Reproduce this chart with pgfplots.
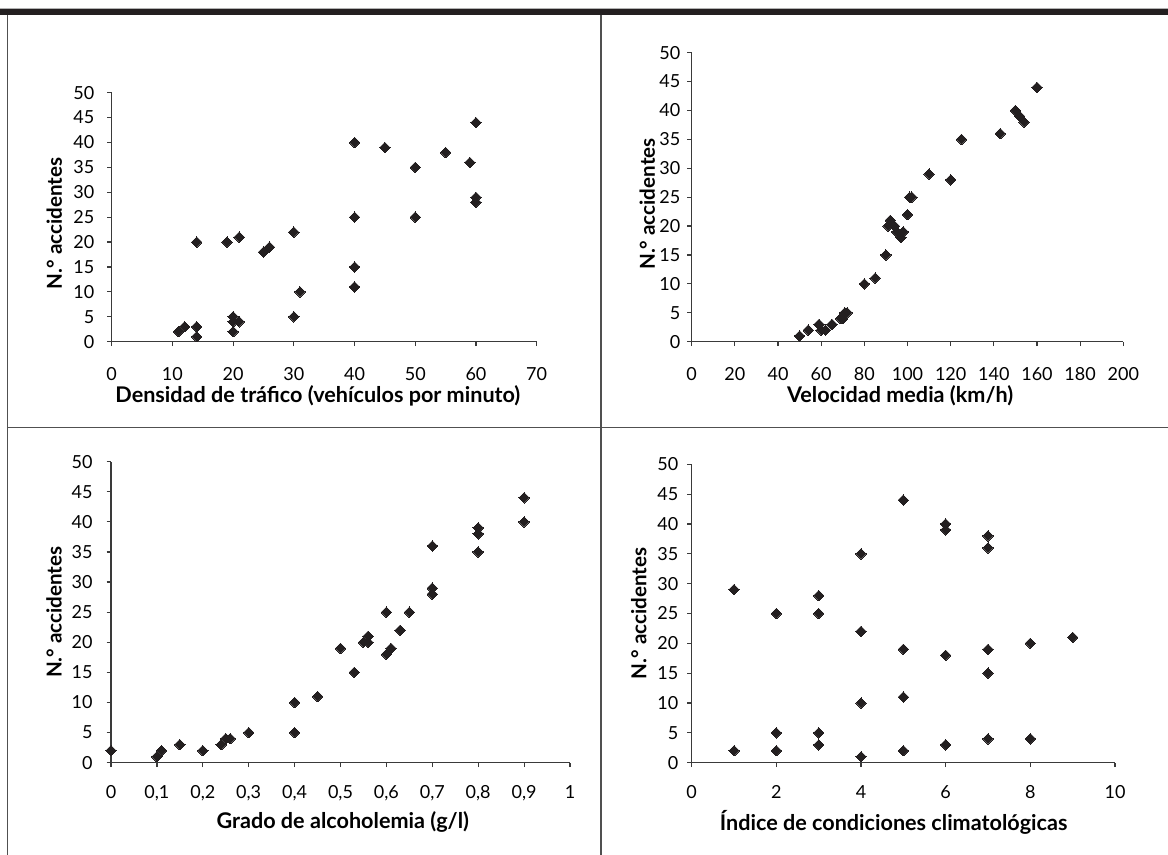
\documentclass[border=0pt]{standalone}
\usepackage{fontspec}
\setmainfont{Lato}
\usepackage{pgfplots}
\pgfplotsset{compat=1.18}
\definecolor{markc}{HTML}{231F20}
\definecolor{axisgray}{HTML}{3A3A3A}
\definecolor{framec}{HTML}{505050}
\pgfplotsset{
  panel/.style={
    scale only axis, clip=false,
    axis lines*=left, tick align=outside, major tick length=2.2pt,
    axis line style={draw=axisgray, line width=0.6pt},
    every tick/.style={draw=axisgray, line width=0.6pt},
    ymin=0, ymax=50, ytick={0,5,...,50},
    ticklabel style={font=\fontsize{9}{10}\selectfont},
    /pgf/number format/assume math mode=true,
    /pgf/number format/1000 sep={},
    ylabel={\textbf{N.° accidentes}},
    every axis x label/.style={anchor=center, font=\fontsize{10.8}{12}\selectfont\bfseries},
    every axis y label/.style={rotate=90, anchor=center, font=\fontsize{10.3}{12}\selectfont\bfseries},
  },
  dots/.style={only marks, mark=square*, mark size=1.85pt,
    mark options={rotate=45, fill=markc, draw=markc, line width=0pt}},
}
\begin{document}
\begin{tikzpicture}
\useasboundingbox (0,0) rectangle (584pt,427.5pt);
\begin{scope}[x=0.5pt,y=0.5pt]
\fill[markc] (0,840) rectangle (1168,846.5);
\draw[gray!60, line width=0.4pt] (0,846.8) -- (1168,846.8);
\draw[framec, line width=0.7pt] (7.5,0) -- (7.5,840);
\draw[framec, line width=0.7pt] (601,0) -- (601,840);
\draw[framec, line width=0.7pt] (7.5,427.5) -- (1168,427.5);
\end{scope}

% Panel 1
\begin{axis}[panel, at={(55.85pt,256.65pt)}, anchor=south west,
  width=212.5pt, height=124.5pt,
  xmin=0, xmax=70, xtick={0,10,...,70},
  xticklabel style={yshift=-7.3pt},
  yticklabel style={xshift=-3pt},
  xlabel={\textbf{Densidad de tráfico (vehículos por minuto)}},
  xlabel style={at={(axis description cs:0.485,-0.218)}},
  ylabel style={at={(axis description cs:-0.135,0.475)}},
]
\addplot[dots] table {
x y
11 2
12 3
14 3
14 1
14 20
19 20
21 21
20 5
20 4
21 4
20 2
25 18
26 19
30 22
30 5
31 10
40 40
40 25
40 15
40 11
45 39
50 35
50 25
55 38
59 36
60 44
60 29
60 28
};
\end{axis}

% Panel 2
\begin{axis}[panel, at={(345.85pt,256.65pt)}, anchor=south west,
  width=215.8pt, height=144.5pt,
  xmin=0, xmax=200, xtick={0,20,...,200},
  xticklabel style={yshift=-7.3pt},
  yticklabel style={xshift=0pt},
  xlabel={\textbf{Velocidad media (km/h)}},
  xlabel style={at={(axis description cs:0.483,-0.188)}},
  ylabel style={at={(axis description cs:-0.103,0.476)}},
]
\addplot[dots] table {
x y
50 1
54 2
59 3
60 2
62 2
65 3
69 4
70 4
71 5
72 5
80 10
85 11
90 15
91 20
92 21
94 20
95 19
97 18
98 19
100 22
101 25
102 25
110 29
120 28
125 35
143 36
150 40
152 39
154 38
160 44
};
\end{axis}

% Panel 3
\begin{axis}[panel, at={(55.5pt,46.15pt)}, anchor=south west,
  width=229.5pt, height=150.5pt,
  xmin=0, xmax=1, xtick={0,0.1,0.2,0.3,0.4,0.5,0.6,0.7,0.8,0.9,1},
  xticklabels={0,{0,1},{0,2},{0,3},{0,4},{0,5},{0,6},{0,7},{0,8},{0,9},1},
  xticklabel style={yshift=-5.8pt},
  yticklabel style={xshift=-3.5pt},
  xlabel={\textbf{Grado de alcoholemia (g/l)}},
  xlabel style={at={(axis description cs:0.505,-0.197)}},
  ylabel style={at={(axis description cs:-0.124,0.5)}},
]
\addplot[dots] table {
x y
0 2
0.1 1
0.11 2
0.15 3
0.2 2
0.24 3
0.25 4
0.26 4
0.3 5
0.4 10
0.4 5
0.45 11
0.5 19
0.53 15
0.55 20
0.56 21
0.56 20
0.6 25
0.6 18
0.61 19
0.63 22
0.65 25
0.7 36
0.7 29
0.7 28
0.8 39
0.8 38
0.8 35
0.9 44
0.9 40
};
\end{axis}

% Panel 4
\begin{axis}[panel, at={(345.85pt,46.15pt)}, anchor=south west,
  width=211.65pt, height=149.2pt,
  xmin=0, xmax=10, xtick={0,2,...,10},
  xticklabel style={yshift=-5.8pt},
  yticklabel style={xshift=-1pt},
  xlabel={\textbf{Índice de condiciones climatológicas}},
  xlabel style={at={(axis description cs:0.477,-0.199)}},
  ylabel style={at={(axis description cs:-0.125,0.5)}},
]
\addplot[dots] table {
x y
1 29
1 2
2 25
2 5
2 2
3 28
3 25
3 5
3 3
4 35
4 22
4 10
4 1
5 44
5 19
5 11
5 2
6 40
6 39
6 18
6 3
7 38
7 36
7 19
7 15
7 4
8 20
8 4
9 21
};
\end{axis}
\end{tikzpicture}
\end{document}
